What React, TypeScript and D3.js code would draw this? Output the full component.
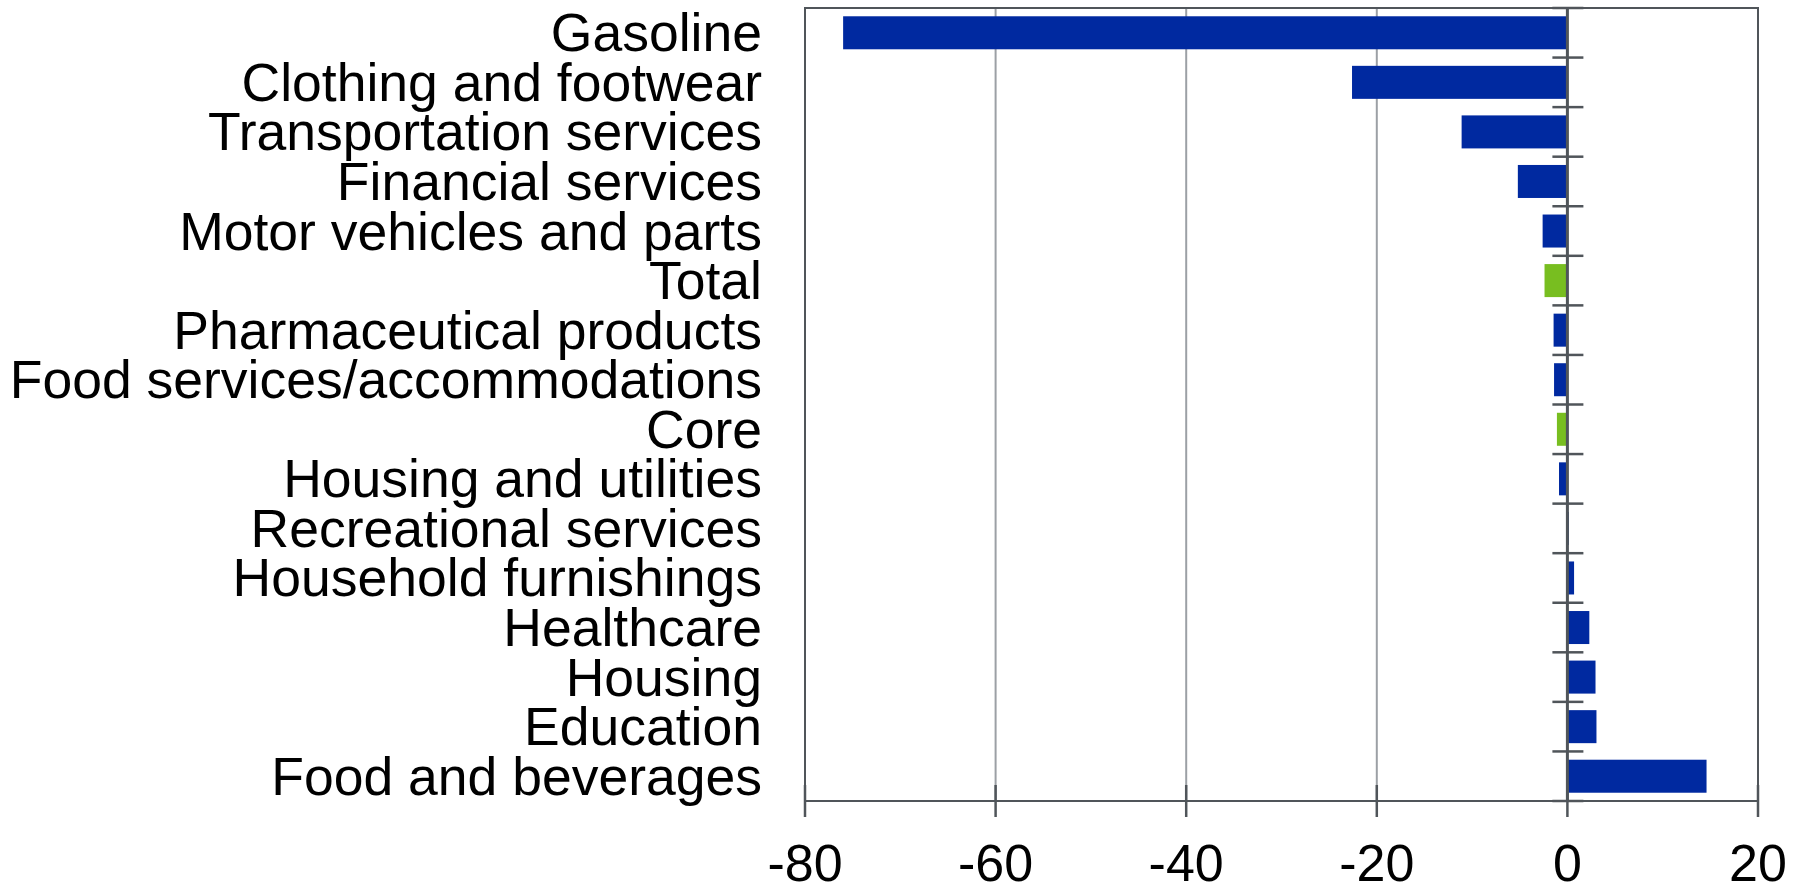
import React from "react";
import * as d3 from "d3";

const categories = [
  "Gasoline",
  "Clothing and footwear",
  "Transportation services",
  "Financial services",
  "Motor vehicles and parts",
  "Total",
  "Pharmaceutical products",
  "Food services/accommodations",
  "Core",
  "Housing and utilities",
  "Recreational services",
  "Household furnishings",
  "Healthcare",
  "Housing",
  "Education",
  "Food and beverages",
];
const values = [-76.0, -22.6, -11.1, -5.2, -2.6, -2.4, -1.45, -1.4, -1.1, -0.88, 0.15, 0.7, 2.3, 2.95, 3.05, 14.6];
const highlighted = ["Total", "Core"];
const xTicks = [-80, -60, -40, -20, 0, 20];

const W = 1802;
const H = 885;
const M = { left: 805, right: 1758, top: 8, bottom: 801 };
const BLUE = "#0029a0";
const GREEN = "#78be20";
const AXIS = "#50555a";
const GRID = "#9ca0a5";
const FONT = "'Liberation Sans', Arial, sans-serif";

export default function App() {
  const x = d3.scaleLinear().domain([-80, 20]).range([M.left, M.right]);
  const y = d3.scaleBand<string>().domain(categories).range([M.top, M.bottom]).padding(0);
  const step = y.step();
  const inset = step * 0.167;
  const barH = step - 2 * inset;
  const x0 = x(0);
  const boundaries = d3.range(categories.length + 1).map((i) => M.top + i * step);

  return (
    <svg width={W} height={H} style={{ position: "absolute", left: 0, top: 0, background: "#fff" }}>
      {xTicks
        .filter((t) => t !== -80 && t !== 0 && t !== 20)
        .map((t) => (
          <line key={"g" + t} x1={x(t)} x2={x(t)} y1={M.top} y2={M.bottom} stroke={GRID} strokeWidth={2} />
        ))}
      {categories.map((c, i) => {
        const v = values[i];
        return (
          <rect
            key={c}
            x={Math.min(x(v), x0)}
            y={(y(c) as number) + inset}
            width={Math.abs(x(v) - x0)}
            height={barH}
            fill={highlighted.includes(c) ? GREEN : BLUE}
          />
        );
      })}
      <rect
        x={M.left}
        y={M.top}
        width={M.right - M.left}
        height={M.bottom - M.top}
        fill="none"
        stroke={AXIS}
        strokeWidth={2}
      />
      <line x1={x0} x2={x0} y1={M.top} y2={M.bottom} stroke={AXIS} strokeWidth={3} />
      {boundaries.map((b, i) => (
        <line key={"b" + i} x1={x0 - 15} x2={x0 + 16} y1={b} y2={b} stroke={AXIS} strokeWidth={2.5} />
      ))}
      {xTicks.map((t) => (
        <line key={"t" + t} x1={x(t)} x2={x(t)} y1={M.bottom - 16} y2={M.bottom + 16} stroke={AXIS} strokeWidth={2.5} />
      ))}
      {xTicks.map((t) => (
        <text key={"l" + t} x={x(t)} y={881} textAnchor="middle" fontFamily={FONT} fontSize={52} fill="#000">
          {t}
        </text>
      ))}
      {categories.map((c) => (
        <text
          key={"c" + c}
          x={762}
          y={(y(c) as number) + step / 2}
          textAnchor="end"
          dominantBaseline="central"
          fontFamily={FONT}
          fontSize={53.5}
          fill="#000"
        >
          {c}
        </text>
      ))}
    </svg>
  );
}
